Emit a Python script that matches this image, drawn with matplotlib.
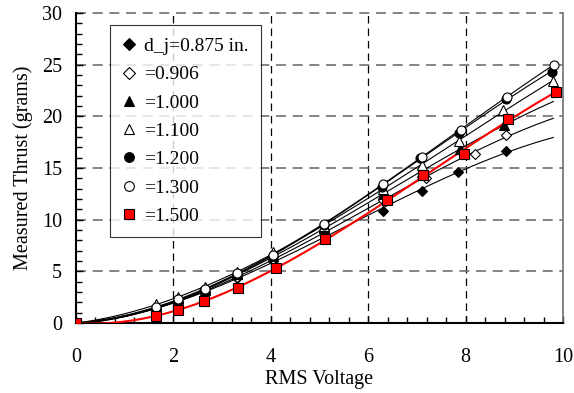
import numpy as np
import matplotlib
matplotlib.use("Agg")
import matplotlib.pyplot as plt
from matplotlib.lines import Line2D
from matplotlib.ticker import MultipleLocator

plt.rcParams['font.family'] = ['Liberation Serif', 'DejaVu Serif']

# Jet diameters (in.) and measured thrust vs. RMS voltage
labels = ["d_j=0.875 in.", "=0.906", "=1.000", "=1.100", "=1.200", "=1.300", "=1.500"]

x_0875 = [0, 1.65, 2.1, 2.65, 3.3, 4.05, 5.1, 6.3, 7.1, 7.85, 8.83]
y_0875 = [0, 1.3, 1.9, 2.9, 4.4, 6.0, 8.8, 10.8, 12.8, 14.6, 16.6]

x_0906 = [0, 1.65, 2.1, 2.65, 3.3, 4.05, 5.1, 6.3, 7.19, 8.2, 8.83]
y_0906 = [0, 1.4, 2.0, 3.0, 4.5, 6.2, 9.0, 11.9, 14.0, 16.4, 18.2]

x_1000 = [0, 1.65, 2.1, 2.65, 3.3, 4.05, 5.1, 6.3, 7.1, 7.88, 8.79]
y_1000 = [0, 1.5, 2.2, 3.2, 4.7, 6.5, 9.2, 12.5, 14.6, 16.8, 19.2]

x_1100 = [0, 1.65, 2.1, 2.65, 3.3, 4.05, 5.1, 6.3, 7.1, 7.86, 8.77, 9.79]
y_1100 = [0, 1.8, 2.5, 3.5, 4.9, 6.9, 9.4, 13.0, 15.3, 17.6, 20.6, 23.4]

x_1200 = [0, 1.65, 2.1, 2.63, 3.3, 4.05, 5.09, 6.28, 7.06, 7.87, 8.83, 9.77]
y_1200 = [0, 1.5, 2.2, 3.2, 4.7, 6.5, 9.5, 13.2, 16.0, 18.4, 21.7, 24.3]

x_1300 = [0, 1.65, 2.1, 2.65, 3.3, 4.05, 5.1, 6.3, 7.1, 7.9, 8.85, 9.81]
y_1300 = [0, 1.6, 2.3, 3.3, 4.8, 6.6, 9.6, 13.5, 16.1, 18.7, 21.9, 25.0]

x_1500 = [0, 1.64, 2.1, 2.63, 3.33, 4.1, 5.12, 6.38, 7.12, 7.96, 8.87, 9.86]
y_1500 = [0, 0.7, 1.25, 2.1, 3.4, 5.3, 8.1, 11.9, 14.3, 16.4, 19.7, 22.4]

series = [
    (x_0875, y_0875, "D", "black"),
    (x_0906, y_0906, "D", "white"),
    (x_1000, y_1000, "^", "black"),
    (x_1100, y_1100, "^", "white"),
    (x_1200, y_1200, "o", "black"),
    (x_1300, y_1300, "o", "white"),
    (x_1500, y_1500, "s", "red"),
]

fig = plt.figure(figsize=(5.74, 3.93), dpi=100)
ax = fig.add_axes([0.132, 0.178, 0.849, 0.789])

xfit = np.linspace(0, 9.8, 200)
handles = []
for i, (xs, ys, mk, fc) in enumerate(series):
    red = fc == "red"
    # cubic trend curve for each diameter
    coef = np.polyfit(xs, ys, 3)
    ax.plot(xfit, np.polyval(coef, xfit), color="red" if red else "black",
            lw=1.5 if red else 0.8, zorder=3 + i)
    ms = 5.5 if mk == "D" else 6.5
    ax.plot(xs, ys, linestyle="none", marker=mk, ms=ms, mfc=fc, mec="black",
            mew=0.8, zorder=10 + i)
    handles.append(Line2D([0], [0], linestyle="none", marker=mk, ms=ms + 0.5,
                          mfc=fc, mec="black", mew=0.8))

ax.set_xlim(0, 10)
ax.set_ylim(0, 30)
ax.xaxis.set_major_locator(MultipleLocator(2))
ax.xaxis.set_minor_locator(MultipleLocator(0.4))
ax.yaxis.set_major_locator(MultipleLocator(5))
ax.yaxis.set_minor_locator(MultipleLocator(1))
ax.tick_params(which="both", direction="in", top=False, right=False,
               labelsize=14.5, width=1)
ax.tick_params(which="major", length=5)
ax.tick_params(which="minor", length=4)
ax.tick_params(axis="x", pad=18)
ax.tick_params(axis="y", pad=10)

# dashed grid: black verticals, grey horizontals
for xv in [2, 4, 6, 8]:
    ax.axvline(xv, color="black", lw=0.9, ls=(0, (6, 4)), zorder=1)
for yv in [5, 10, 15, 20, 25, 30]:
    ax.axhline(yv, color="#707070", lw=1.2, ls=(0, (6, 4)), zorder=1,
               clip_on=False)

ax.spines["top"].set_visible(False)
ax.spines["right"].set_color("#707070")
ax.spines["right"].set_linewidth(1.2)
ax.spines["left"].set_linewidth(1.5)
ax.spines["bottom"].set_linewidth(1.5)

ax.set_xlabel("RMS Voltage", fontsize=14.5, labelpad=2)
ax.set_ylabel("Measured Thrust (grams)", fontsize=14.5, labelpad=6)

leg = ax.legend(handles, labels, loc="upper left", bbox_to_anchor=(0.07, 0.962),
                fontsize=14, frameon=True, fancybox=False, handlelength=0.7,
                handletextpad=0.4, labelspacing=0.55, borderpad=0.65,
                borderaxespad=0)
leg.get_frame().set_edgecolor("black")
leg.get_frame().set_linewidth(0.8)
leg.set_zorder(30)

fig.savefig("out.png", dpi=100)
